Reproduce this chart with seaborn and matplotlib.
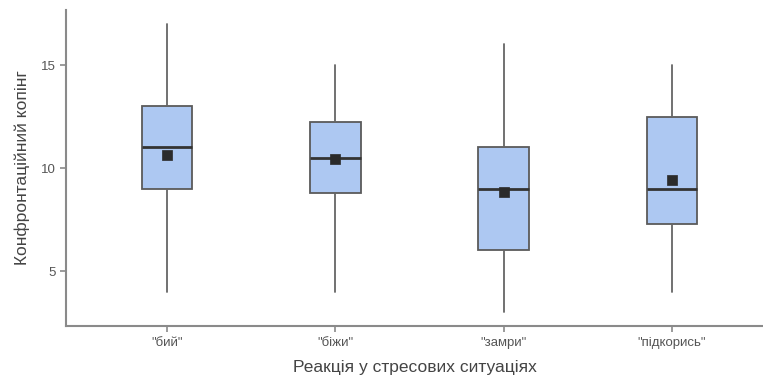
import matplotlib
matplotlib.use("Agg")
import matplotlib.pyplot as plt
import seaborn as sns

# Дані
categories = ['"бий"', '"біжи"', '"замри"', '"підкорись"']
whisker_low = [4, 4, 3, 4]
q1 = [9, 8.78, 6, 7.27]
medians = [11, 10.5, 9, 9]
q3 = [13, 12.23, 11, 12.5]
whisker_high = [17, 15, 16, 15]
means = [10.65, 10.45, 8.82, 9.42]


def setup_style():
    sns.set_theme(style="ticks")
    plt.rcParams['font.family'] = ['Liberation Sans', 'DejaVu Sans']
    plt.rcParams['axes.edgecolor'] = '#8a8a8a'
    plt.rcParams['xtick.color'] = '#8a8a8a'
    plt.rcParams['ytick.color'] = '#8a8a8a'
    plt.rcParams['xtick.labelcolor'] = '#555555'
    plt.rcParams['ytick.labelcolor'] = '#555555'


def plot_boxes():
    fig = plt.figure(figsize=(7.63, 3.85), dpi=100)
    ax = fig.add_axes([0.0865, 0.153, 0.9135, 0.821])

    stats = []
    for i, name in enumerate(categories):
        stats.append({
            'label': name,
            'whislo': whisker_low[i],
            'q1': q1[i],
            'med': medians[i],
            'q3': q3[i],
            'whishi': whisker_high[i],
            'fliers': [],
        })

    ax.bxp(stats, positions=range(len(categories)), widths=0.3,
           patch_artist=True, showcaps=False, showfliers=False,
           boxprops=dict(facecolor='#adc8f2', edgecolor='#5a5a5a', linewidth=1.3),
           whiskerprops=dict(color='#666666', linewidth=1.3),
           medianprops=dict(color='#333333', linewidth=2.0))

    sns.scatterplot(x=list(range(len(categories))), y=means, marker='s', s=60,
                    color='#2b2b2b', edgecolor='#2b2b2b', linewidth=0.5, ax=ax, zorder=5)

    ax.set_xlim(-0.6, 3.54)
    ax.set_ylim(2.33, 17.67)
    ax.set_yticks([5, 10, 15])
    ax.set_xticks(range(len(categories)))
    ax.set_xticklabels(categories)
    ax.tick_params(axis='both', labelsize=9.5, length=4, width=1.2)
    for side in ['left', 'bottom']:
        ax.spines[side].set_linewidth(1.5)
    sns.despine(ax=ax)

    ax.set_xlabel('Реакція у стресових ситуаціях', fontsize=12.5, color='#444444', labelpad=8)
    ax.set_ylabel('Конфронтаційний копінг', fontsize=12.5, color='#444444', labelpad=8)

    fig.savefig('out.png', dpi=100)
    plt.close(fig)


if __name__ == "__main__":
    setup_style()
    plot_boxes()
